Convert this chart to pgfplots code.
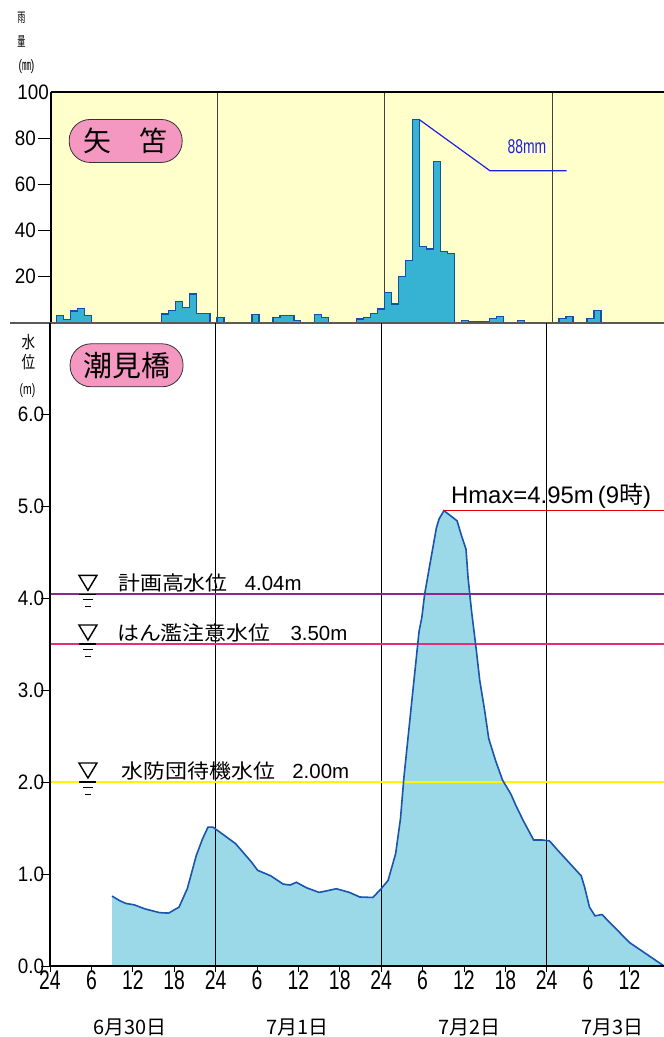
\documentclass[border=0pt]{standalone}
\usepackage{fontspec}
\usepackage{pgfplots}
\usepackage{pgfplotstable}
\pgfplotsset{compat=1.18}
\setmainfont{Liberation Sans}
\newfontfamily\jp{Noto Sans CJK JP}
\newfontfamily\jpw[FakeStretch=1.1]{Noto Sans CJK JP}
\newfontfamily\jpc[FakeStretch=0.6]{Noto Sans CJK JP}
\newfontfamily\jpm[FakeStretch=0.8]{Noto Sans CJK JP}
\newfontfamily\cnd[FakeStretch=0.72]{Liberation Sans}
\newfontfamily\cndb[FakeStretch=0.9]{Liberation Sans}
\newfontfamily\cndc[FakeStretch=0.7]{Liberation Sans}

\definecolor{rainbg}{RGB}{255,255,204}
\definecolor{barfill}{RGB}{54,178,210}
\definecolor{baredge}{RGB}{20,80,165}
\definecolor{wfill}{RGB}{155,217,232}
\definecolor{wline}{RGB}{25,85,170}
\definecolor{pinkbox}{RGB}{244,152,194}
\definecolor{hwl}{RGB}{140,40,140}
\definecolor{cwl}{RGB}{232,45,120}
\definecolor{ywl}{RGB}{255,245,0}
\definecolor{annblue}{RGB}{30,30,230}

\pgfplotstableread{
h lvl
9 0.76
10.1 0.71
11 0.68
12.2 0.665
13.8 0.62
15.9 0.58
17.2 0.575
18.7 0.64
19.9 0.84
21.2 1.20
22.1 1.38
22.9 1.51
23.6 1.51
24.9 1.44
26.9 1.33
29.2 1.13
30.1 1.04
32 0.98
33.8 0.89
34.8 0.88
35.7 0.91
37.2 0.85
39 0.80
40.3 0.82
41.5 0.84
43.4 0.80
44.9 0.75
46.8 0.745
48 0.84
49 0.93
50.1 1.22
50.8 1.60
51.3 2.05
52.5 2.92
53.5 3.64
53.9 3.79
54.3 4.04
55.1 4.38
56 4.76
56.4 4.86
57.1 4.95
59 4.84
59.6 4.69
60.3 4.53
60.6 4.22
61.1 3.86
61.8 3.43
62.3 3.10
63 2.78
63.6 2.47
64.6 2.23
65.6 2.02
66.8 1.87
67.5 1.75
68.6 1.58
70.1 1.37
71.3 1.37
72.4 1.36
73.7 1.25
77 0.98
77.5 0.855
78.2 0.64
79 0.545
80 0.56
84 0.255
89 0
}\wtab

\newcommand{\wlsym}[1]{%
 \draw[line width=1.4bp] ([xshift=-9bp,yshift=19bp]axis cs:5.5,#1) -- ([xshift=9bp,yshift=19bp]axis cs:5.5,#1) -- ([yshift=4bp]axis cs:5.5,#1) -- cycle;
 \draw[line width=1.2bp] ([xshift=-8.5bp]axis cs:5.5,#1) -- ([xshift=8.5bp]axis cs:5.5,#1);
 \draw[line width=1bp] ([xshift=-5bp,yshift=-5.5bp]axis cs:5.5,#1) -- ([xshift=5bp,yshift=-5.5bp]axis cs:5.5,#1);
 \draw[line width=1bp] ([xshift=-3bp,yshift=-12bp]axis cs:5.5,#1) -- ([xshift=3bp,yshift=-12bp]axis cs:5.5,#1);}

\begin{document}
\begin{tikzpicture}
\useasboundingbox (0,0) rectangle (664bp,1037bp);

% axis titles
\node[inner sep=0] at (21.5bp,1019bp) {\fontsize{13.5}{13.5}\selectfont\jpc 雨};
\node[inner sep=0] at (21.5bp,995.5bp) {\fontsize{13.5}{13.5}\selectfont\jpc 量};
\node[inner sep=0] at (26.5bp,970.5bp) {\fontsize{15}{15}\selectfont\cndc(\jpc ㎜\cndc)};
\node[inner sep=0] at (28.5bp,694.5bp) {\fontsize{17}{17}\selectfont\jpm 水};
\node[inner sep=0] at (28.5bp,674.5bp) {\fontsize{17}{17}\selectfont\jpm 位};
\node[inner sep=0] at (27.5bp,646.5bp) {\fontsize{15}{15}\selectfont\cndc (m)};

% date labels
\node[inner sep=0] at (130bp,10bp) {\fontsize{20}{20}\selectfont\jp 6月30日};
\node[inner sep=0] at (297bp,10bp) {\fontsize{20}{20}\selectfont\jp 7月1日};
\node[inner sep=0] at (469bp,10bp) {\fontsize{20}{20}\selectfont\jp 7月2日};
\node[inner sep=0] at (612bp,10bp) {\fontsize{20}{20}\selectfont\jp 7月3日};

% ---------- rainfall panel ----------
\begin{axis}[
 at={(51bp,714bp)}, anchor=south west, scale only axis,
 width=613bp, height=231bp,
 xmin=0.2, xmax=88.04, ymin=0, ymax=100,
 clip=false,
 axis line style={draw=none},
 axis background/.style={fill=rainbg},
 xtick=\empty,
 ytick={20,40,60,80},
 extra y ticks={100},
 extra y tick style={major tick length=0pt},
 ytick pos=left, tick align=outside,
 major tick length=13bp,
 tick style={black, line width=0.8bp},
 yticklabel style={font=\fontsize{21}{21}\selectfont\cndb, inner sep=2bp},
 /pgf/number format/assume math mode=true,
]
\draw[black!75, line width=0.9bp] (axis cs:24,0) -- (axis cs:24,100);
\draw[black!75, line width=0.9bp] (axis cs:48,0) -- (axis cs:48,100);
\draw[black!75, line width=0.9bp] (axis cs:72,0) -- (axis cs:72,100);

\addplot[const plot, fill=barfill, draw=baredge, line width=1.3bp] coordinates {(1,3.3) (2,1.4) (3,5.2) (4,6.2) (5,3.3) (6,3.3)} \closedcycle;
\addplot[const plot, fill=barfill, draw=baredge, line width=1.3bp] coordinates {(16,3.9) (17,5.3) (18,9.3) (19,6.8) (20,12.5) (21,4) (22,4) (23,4)} \closedcycle;
\addplot[const plot, fill=barfill, draw=baredge, line width=1.3bp] coordinates {(24,2.4) (25,2.4)} \closedcycle;
\addplot[const plot, fill=barfill, draw=baredge, line width=1.3bp] coordinates {(29,3.6) (30,3.6)} \closedcycle;
\addplot[const plot, fill=barfill, draw=baredge, line width=1.3bp] coordinates {(32,2.4) (33,3.3) (34,3.3) (35,1) (36,1)} \closedcycle;
\addplot[const plot, fill=barfill, draw=baredge, line width=1.3bp] coordinates {(38,3.6) (39,2.4) (40,2.4)} \closedcycle;
\addplot[const plot, fill=barfill, draw=baredge, line width=1.3bp] coordinates {(44,1.7) (45,2.4) (46,4) (47,6) (48,13.2) (49,8.2) (50,20) (51,27) (52,88) (53,33) (54,32) (55,70) (56,31) (57,30) (58,30)} \closedcycle;
\addplot[const plot, fill=barfill, draw=baredge, line width=1.3bp] coordinates {(59,1) (60,0.5) (61,0.5) (62,0.5) (63,2) (64,2.9) (65,2.9)} \closedcycle;
\addplot[const plot, fill=barfill, draw=baredge, line width=1.3bp] coordinates {(67,1) (68,1)} \closedcycle;
\addplot[const plot, fill=barfill, draw=baredge, line width=1.3bp] coordinates {(73,2) (74,2.9) (75,2.9)} \closedcycle;
\addplot[const plot, fill=barfill, draw=baredge, line width=1.3bp] coordinates {(77,2) (78,5.3) (79,5.3)} \closedcycle;

% frame
\draw[black, line width=2bp] (rel axis cs:0,1) -- (rel axis cs:1,1);
\draw[black, line width=2bp] (rel axis cs:0,0) -- (rel axis cs:0,1);
\draw[black!65, line width=1.5bp] ([xshift=-41bp]rel axis cs:0,0) -- (rel axis cs:1,0);

% annotation
\draw[annblue, line width=1.2bp] (axis cs:53,88) -- (axis cs:63.1,65.9) -- (axis cs:74.1,65.9);
\node[annblue, inner sep=0] at (axis cs:68.4,76.2) {\fontsize{20}{20}\selectfont\cndc 88mm};

\node[draw=black!80, fill=pinkbox, rounded corners=21bp, minimum width=113bp, minimum height=43bp, line width=0.8bp, inner sep=0] at (axis cs:10.9,78.8) {\fontsize{28}{28}\selectfont\jp 矢　笘};
\end{axis}

% ---------- water level panel ----------
\begin{axis}[
 at={(50bp,71bp)}, anchor=south west, scale only axis,
 width=614bp, height=643bp,
 xmin=0, xmax=89, ymin=0, ymax=6.99,
 clip=false,
 axis line style={draw=none},
 xtick={0,6,...,84},
 xticklabels={24,6,12,18,24,6,12,18,24,6,12,18,24,6,12},
 ytick={0,1,2,3,4,5,6},
 xtick pos=bottom, ytick pos=left, tick align=outside,
 xtick style={black, line width=0.8bp, /pgfplots/major tick length=6bp},
 ytick style={black, line width=0.8bp, /pgfplots/major tick length=9bp},
 xticklabel style={font=\fontsize{27}{27}\selectfont\cnd, inner sep=0pt, anchor=north},
 yticklabel style={font=\fontsize{21}{21}\selectfont\cndb, inner sep=1.5bp},
 /pgf/number format/.cd, fixed, fixed zerofill, precision=1, assume math mode=true,
]
\addplot[draw=none, fill=wfill] table[x=h,y=lvl] {\wtab} \closedcycle;

\draw[black, line width=0.9bp] (axis cs:24,0) -- (axis cs:24,6.99);
\draw[black, line width=0.9bp] (axis cs:48,0) -- (axis cs:48,6.99);
\draw[black, line width=0.9bp] (axis cs:72,0) -- (axis cs:72,6.99);

\addplot[hwl, line width=2bp] coordinates {(0,4.04) (89,4.04)};
\addplot[cwl, line width=2bp] coordinates {(0,3.5) (89,3.5)};
\addplot[ywl, line width=2.5bp] coordinates {(0,2.0) (89,2.0)};

\addplot[wline, line width=1.6bp] table[x=h,y=lvl] {\wtab};

\draw[red!85!black, line width=0.9bp] (axis cs:57.1,4.95) -- (axis cs:89,4.95);
\node[anchor=base west, inner sep=0] at (axis cs:58.1,5.03) {\fontsize{24}{24}\selectfont Hmax=4.95m\,(9\jp 時\rmfamily)};

\wlsym{4.04}
\wlsym{3.5}
\wlsym{2.0}
\node[anchor=west, inner sep=0] at ([yshift=11bp]axis cs:9.86,4.04) {\fontsize{20}{20}\selectfont\jpw 計画高水位\hspace{17bp}\fontsize{20.5}{20.5}\selectfont\rmfamily 4.04m};
\node[anchor=west, inner sep=0] at ([yshift=11bp]axis cs:9.7,3.5) {\fontsize{20}{20}\selectfont\jpw はん濫注意水位\hspace{20bp}\fontsize{20.5}{20.5}\selectfont\rmfamily 3.50m};
\node[anchor=west, inner sep=0] at ([yshift=11bp]axis cs:10.4,2.0) {\fontsize{20}{20}\selectfont\jpw 水防団待機水位\hspace{17bp}\fontsize{20.5}{20.5}\selectfont\rmfamily 2.00m};

\draw[black, line width=2bp] (axis cs:0,0) -- (axis cs:0,6.99);
\draw[black, line width=1.5bp] (axis cs:0,0) -- (axis cs:89,0);

\node[draw=black!80, fill=pinkbox, rounded corners=21bp, minimum width=113bp, minimum height=43bp, line width=0.8bp, inner sep=0] at (axis cs:11.1,6.53) {\fontsize{29}{29}\selectfont\jp 潮見橋};
\end{axis}
\end{tikzpicture}
\end{document}
